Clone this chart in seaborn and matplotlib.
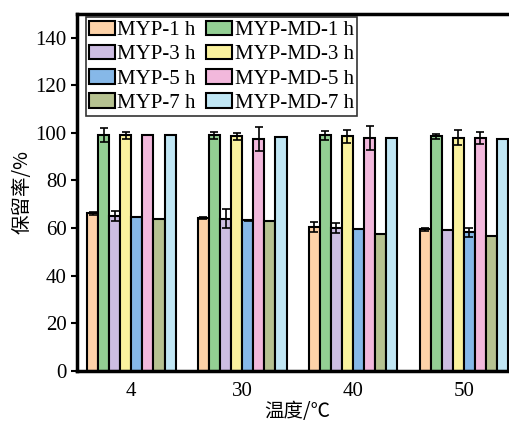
import matplotlib
matplotlib.use("Agg")
import matplotlib.pyplot as plt
import seaborn as sns
import pandas as pd
import numpy as np

temps = ["4", "30", "40", "50"]
series = ["MYP-1 h", "MYP-MD-1 h", "MYP-3 h", "MYP-MD-3 h",
          "MYP-5 h", "MYP-MD-5 h", "MYP-7 h", "MYP-MD-7 h"]
values = {
    "MYP-1 h":    [66.2, 64.2, 60.5, 59.5],
    "MYP-MD-1 h": [99.2, 99.0, 99.0, 98.6],
    "MYP-3 h":    [65.0, 64.0, 60.0, 59.0],
    "MYP-MD-3 h": [99.0, 98.5, 98.5, 98.0],
    "MYP-5 h":    [64.5, 63.3, 59.5, 58.2],
    "MYP-MD-5 h": [99.0, 97.5, 98.0, 98.0],
    "MYP-7 h":    [64.0, 63.0, 57.5, 56.5],
    "MYP-MD-7 h": [99.0, 98.2, 98.0, 97.5],
}
errors = {
    "MYP-1 h":    [0.5, 0.5, 2.0, 0.6],
    "MYP-MD-1 h": [3.0, 1.5, 1.8, 1.0],
    "MYP-3 h":    [2.2, 4.0, 2.0, 0.0],
    "MYP-MD-3 h": [1.5, 1.5, 2.8, 3.2],
    "MYP-5 h":    [0.0, 0.3, 0.0, 2.0],
    "MYP-MD-5 h": [0.0, 5.0, 5.0, 2.5],
    "MYP-7 h":    [0.0, 0.0, 0.0, 0.0],
    "MYP-MD-7 h": [0.0, 0.0, 0.0, 0.0],
}
colors = {
    "MYP-1 h": "#FDD2A8", "MYP-MD-1 h": "#93CF93",
    "MYP-3 h": "#CDBDE2", "MYP-MD-3 h": "#FAF29E",
    "MYP-5 h": "#86B8E8", "MYP-MD-5 h": "#F2B8DC",
    "MYP-7 h": "#B6C291", "MYP-MD-7 h": "#C0E6F4",
}

rows = []
for s in series:
    for t, v, e in zip(temps, values[s], errors[s]):
        rows.append({"温度": t, "保留率": v, "series": s, "err": e})
df = pd.DataFrame(rows)

sns.set_style("ticks")
plt.rcParams['font.family'] = ['Liberation Serif', 'Noto Sans CJK SC', 'DejaVu Sans']
plt.rcParams['text.color'] = 'black'
plt.rcParams['axes.labelcolor'] = 'black'
plt.rcParams['xtick.color'] = 'black'
plt.rcParams['ytick.color'] = 'black'
plt.rcParams['axes.edgecolor'] = 'black'

fig = plt.figure(figsize=(5.1, 4.21), dpi=100)
ax = fig.add_axes([0.151, 0.119, 0.865, 0.848])

sns.barplot(data=df, x="温度", y="保留率", hue="series", hue_order=series,
            order=temps, palette=colors, saturation=1, width=0.8,
            edgecolor="black", linewidth=1.5, errorbar=None, ax=ax, legend=True)

# error bars positioned from drawn bars
for container, s in zip(ax.containers, series):
    for patch, e in zip(container.patches, errors[s]):
        if e > 0:
            xc = patch.get_x() + patch.get_width() / 2
            ax.errorbar(xc, patch.get_height(), yerr=e, fmt="none",
                        ecolor="black", elinewidth=1.2, capsize=3, capthick=1.2)

ax.set_ylim(0, 150)
ax.set_xlim(-0.49, 3.49)
ax.set_yticks([0, 20, 40, 60, 80, 100, 120, 140])
ax.tick_params(axis="y", labelsize=15, length=4, width=1.5, direction="out")
ax.tick_params(axis="x", labelsize=15, length=0, pad=8)
for sp in ax.spines.values():
    sp.set_linewidth(2.5)
    sp.set_visible(True)
    sp.set_color("black")

ax.set_xlabel("温度/℃", fontsize=14, family=['Noto Sans CJK SC', 'DejaVu Sans'], labelpad=0)
ax.set_ylabel("保留率/%", fontsize=14, family=['Noto Sans CJK SC', 'DejaVu Sans'], labelpad=2)

handles, labels = ax.get_legend_handles_labels()
hmap = dict(zip(labels, handles))
order = ["MYP-1 h", "MYP-3 h", "MYP-5 h", "MYP-7 h",
         "MYP-MD-1 h", "MYP-MD-3 h", "MYP-MD-5 h", "MYP-MD-7 h"]
leg = ax.legend([hmap[l] for l in order], order, ncol=2, loc="upper left",
                bbox_to_anchor=(0.02, 0.99), fontsize=15, frameon=True,
                fancybox=False, edgecolor="black", handlelength=1.25,
                handleheight=0.7, handletextpad=0.12, columnspacing=0.5,
                labelspacing=0.22, borderpad=0.15, borderaxespad=0.0)
leg.get_frame().set_linewidth(1.2)

fig.savefig("out.png", dpi=100)
